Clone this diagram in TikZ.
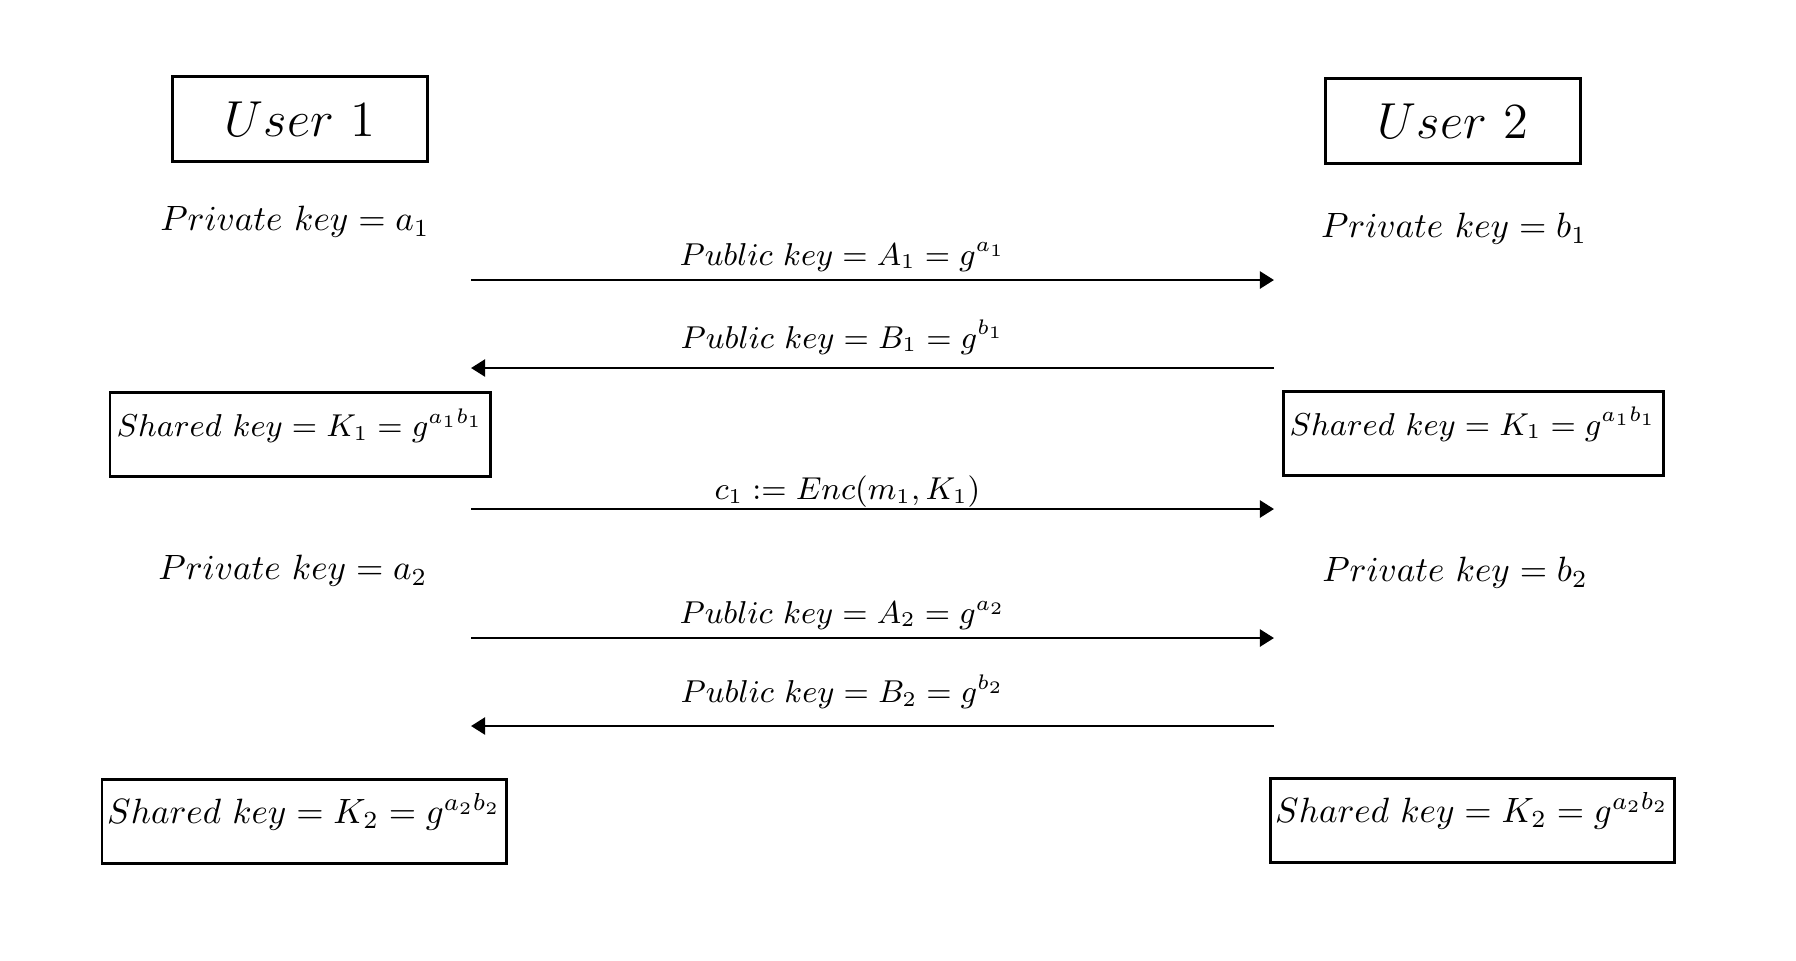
\documentclass[tikz,border=0pt]{standalone}
\usetikzlibrary{arrows.meta}
\usetikzlibrary{positioning}

\tikzset{
  userbox/.style={draw, line width=0.9pt, minimum width=2.55cm, minimum height=0.85cm, font=\Large},
  keybox/.style={draw, line width=0.85pt, inner xsep=0.05cm, inner ysep=0.02cm, text height=0.42cm, text depth=0.38cm},
  keyone/.style={keybox, minimum width=3.80cm, font=\fontsize{9.2}{11}\selectfont},
  keytwo/.style={keybox, minimum width=4.04cm, font=\fontsize{9.6}{11}\selectfont},
  msg/.style={line width=0.8pt, -{Triangle[length=4pt,width=4.8pt]}},
  msglabel/.style={above, inner sep=2pt, xshift=-0.3cm, font=\fontsize{8.7}{10}\selectfont}
}

\begin{document}
\begin{tikzpicture}
\useasboundingbox (0,0) rectangle (17.96,-9.60);
% users
\node[userbox] (user1) at (3.00,-1.19) {$User\ 1$};
\node[userbox] (user2) at (14.53,-1.21) {$User\ 2$};
% first round
\node (priva1) at (2.95,-2.22) {$Private\ key = a_1$};
\node (privb1) at (14.54,-2.29) {$Private\ key = b_1$};
\coordinate (l1) at (4.71,-2.80);  \coordinate (r1) at (12.74,-2.80);
\coordinate (l2) at (4.71,-3.68);  \coordinate (r2) at (12.74,-3.68);
\draw[msg] (l1) -- (r1) node[midway, msglabel] (puba1) {$Public\ key = A_1 = g^{a_1}$};
\draw[msg] (r2) -- (l2) node[midway, msglabel, yshift=1.5pt] (pubb1) {$Public\ key = B_1 = g^{b_1}$};
\node[keyone] (sharedl1) at (3.00,-4.345) {$Shared\ key = K_1 = g^{a_1b_1}$};
\node[keyone] (sharedr1) at (14.73,-4.33) {$Shared\ key = K_1 = g^{a_1b_1}$};
% encrypted message
\coordinate (l3) at (4.71,-5.09);  \coordinate (r3) at (12.74,-5.09);
\draw[msg] (l3) -- (r3) node[midway, msglabel, yshift=-2pt, xshift=0.05cm, font=\fontsize{8.6}{10}\selectfont] (cipher) {$c_1 := Enc(m_1, K_1)$};
% second round
\node[font=\fontsize{9.6}{11}\selectfont] (priva2) at (2.93,-5.71) {$Private\ key = a_2$};
\node[font=\fontsize{9.6}{11}\selectfont] (privb2) at (14.55,-5.73) {$Private\ key = b_2$};
\coordinate (l4) at (4.71,-6.38);  \coordinate (r4) at (12.74,-6.38);
\coordinate (l5) at (4.71,-7.26);  \coordinate (r5) at (12.74,-7.26);
\draw[msg] (l4) -- (r4) node[midway, msglabel] (puba2) {$Public\ key = A_2 = g^{a_2}$};
\draw[msg] (r5) -- (l5) node[midway, msglabel, yshift=2.5pt] (pubb2) {$Public\ key = B_2 = g^{b_2}$};
\node[keytwo] (sharedl2) at (3.04,-8.215) {$Shared\ key = K_2 = g^{a_2b_2}$};
\node[keytwo] (sharedr2) at (14.72,-8.20) {$Shared\ key = K_2 = g^{a_2b_2}$};
\end{tikzpicture}
\end{document}
